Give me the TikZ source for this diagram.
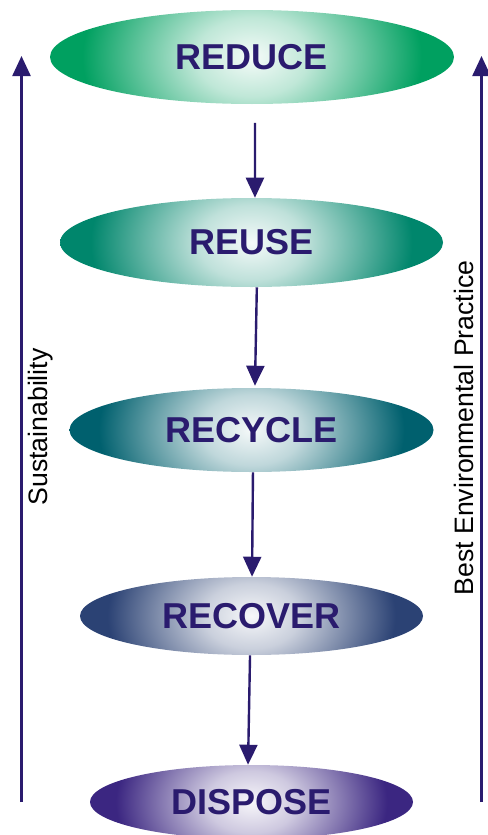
\documentclass[tikz,border=0pt]{standalone}
\usepackage{fontspec}
\setmainfont{Liberation Sans}
\usetikzlibrary{shapes.geometric}
\usetikzlibrary{arrows.meta}
\definecolor{ink}{HTML}{2A1B6E}
\definecolor{reduceG}{HTML}{00A060}
\definecolor{reuseG}{HTML}{00866C}
\definecolor{recycleG}{HTML}{00606E}
\definecolor{recoverG}{HTML}{2B4274}
\definecolor{disposeG}{HTML}{3B2681}
\newcommand\stageshading[2]{\pgfdeclareradialshading{#1}{\pgfpoint{0bp}{0bp}}{color(0bp)=(#2!4!white); color(7bp)=(#2!25!white); color(14bp)=(#2!62!white); color(21bp)=(#2); color(50bp)=(#2)}}
\stageshading{reduceS}{reduceG}
\stageshading{reuseS}{reuseG}
\stageshading{recycleS}{recycleG}
\stageshading{recoverS}{recoverG}
\stageshading{disposeS}{disposeG}

\begin{document}
\begin{tikzpicture}[x=0.75pt, y=-0.75pt,
  stage/.style n args={3}{ellipse, inner sep=0pt, fill=white, minimum width=#2, minimum height=#3, text=ink, font=\fontsize{27}{32}\selectfont\bfseries,
    path picture={\shade[shading=#1] ([yshift=-1.0*#3]path picture bounding box.south west) rectangle ([yshift=1.0*#3]path picture bounding box.north east);}},
  flow/.style={ink, line width=1.8pt, -{Triangle[width=13.5pt,length=15pt]}},
  side/.style={rotate=90, anchor=base, font=\fontsize{20}{24}\selectfont, text=black}]
  \useasboundingbox (0,0) rectangle (488,835);

  \node[stage={reduceS}{303pt}{70.5pt}] (reduce) at (252,57) {REDUCE};
  \node[stage={reuseS}{287.25pt}{66.75pt}] (reuse) at (251.5,242.5) {REUSE};
  \node[stage={recycleS}{273pt}{63pt}] (recycle) at (251.5,430) {RECYCLE};
  \node[stage={recoverS}{257.25pt}{58.5pt}] (recover) at (251.5,616) {RECOVER};
  \node[stage={disposeS}{242.25pt}{55.5pt}] (dispose) at (251.5,802) {DISPOSE};

  \draw[flow] ([xshift=2.25pt,yshift=-14pt]reduce.south) -- ([xshift=2.6pt]reuse.north);
  \draw[flow] ([xshift=4pt]reuse.south) -- ([xshift=2.6pt,yshift=1.5pt]recycle.north);
  \draw[flow] ([xshift=1.1pt]recycle.south) -- ([xshift=0.4pt]recover.north);
  \draw[flow] ([xshift=-1.1pt]recover.south) -- ([xshift=-2.6pt]dispose.north);

  \coordinate (lbot) at (21.5,802);
  \coordinate (ltop) at (21.5,56);
  \coordinate (rbot) at (481.5,802);
  \coordinate (rtop) at (481.5,56);
  \draw[flow] (lbot) -- (ltop);
  \draw[flow] (rbot) -- (rtop);

  \node[side] (sust) at (47,427) {Sustainability};
  \node[side] (bep) at (473,428) {Best Environmental Practice};
\end{tikzpicture}
\end{document}
